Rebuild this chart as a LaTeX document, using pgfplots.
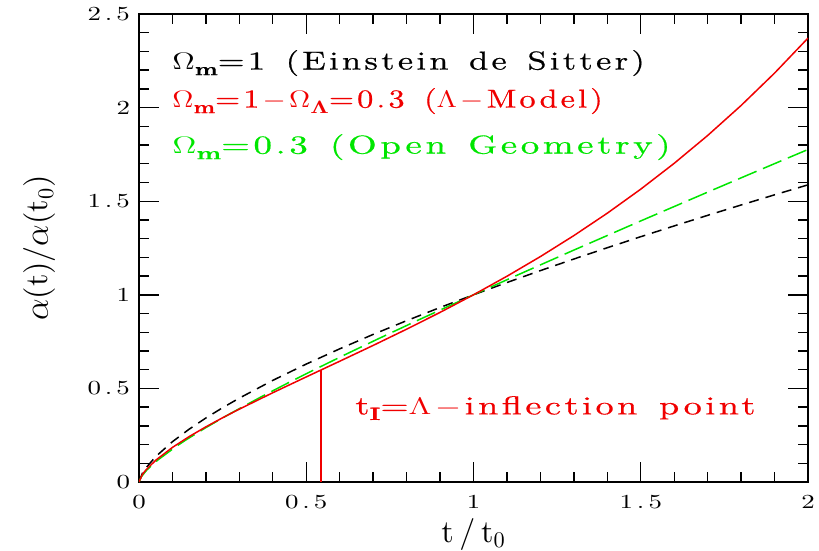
\documentclass[border=0pt]{standalone}
\usepackage[no-math]{fontspec}
\setmainfont{lmroman10-regular.otf}[BoldFont=lmroman10-bold.otf]
\newfontfamily\lblfam{lmroman10-regular.otf}[BoldFont=lmroman10-bold.otf,LetterSpace=9.5,WordSpace=1.4,FakeBold=0.5]
\usepackage{pgfplots}
\pgfplotsset{compat=1.18}
\definecolor{mygreen}{RGB}{0,230,0}
\definecolor{myred}{RGB}{240,0,0}
\newcommand{\lblfont}{\lblfam\fontsize{13}{15}\selectfont}
\newcommand{\sub}[1]{\raisebox{-0.5ex}{\fontsize{9}{9}\selectfont\bfseries #1}}
\newcommand{\subL}{\raisebox{-0.5ex}{$\scriptstyle\mathbf{\Lambda}$}}
\newcommand{\mminus}{\hspace{0.1em}$-$\hspace{0.1em}}
\begin{document}
\begin{tikzpicture}
\useasboundingbox (-69.5bp,-34.5bp) rectangle (340bp,241bp);
\begin{axis}[
  at={(0,0)}, anchor=south west,
  scale only axis, width=334.5bp, height=234bp,
  xmin=0, xmax=2, ymin=0, ymax=2.5,
  xtick={0,0.5,1,1.5,2}, ytick={0,0.5,1,1.5,2,2.5},
  minor tick num=4,
  major tick length=10bp, minor tick length=5bp,
  tick align=inside,
  tick style={black, line width=0.7bp},
  axis line style={line width=1bp},
  /pgf/number format/assume math mode=true,
  ticklabel style={font=\fontsize{10}{12}\selectfont\addfontfeatures{LetterSpace=15}},
  xticklabel={\scalebox{1.35}[1]{\pgfmathprintnumber{\tick}}},
  yticklabel={\scalebox{1.35}[1]{\pgfmathprintnumber{\tick}}},
  xticklabel style={yshift=-3bp},
  yticklabel style={xshift=-1bp},
  xlabel={t/t\textsubscript{0}},
  ylabel={$\alpha$(t)/$\alpha$(t\textsubscript{0})},
  label style={font=\fontsize{16}{18}\selectfont},
  xlabel style={at={(axis description cs:0.5,-0.112)}, anchor=center, font=\fontsize{16}{18}\selectfont\addfontfeatures{LetterSpace=18}},
  ylabel style={at={(axis description cs:-0.148,0.5)}, anchor=center},
  clip=true,
]
% Einstein de Sitter a = t^(2/3)
\addplot[black, line width=0.75bp, dash pattern=on 5bp off 3.5bp] coordinates {
(0,0) (0.01,0.04642) (0.02,0.07368) (0.05,0.13572) (0.1,0.21544) (0.15,0.28231)
(0.2,0.34200) (0.25,0.39685) (0.3,0.44814) (0.4,0.54288) (0.5,0.62996)
(0.6,0.71138) (0.7,0.78837) (0.8,0.86177) (0.9,0.93217) (1.0,1.0)
(1.1,1.06560) (1.2,1.12924) (1.3,1.19114) (1.4,1.25146) (1.5,1.31037)
(1.6,1.36798) (1.7,1.42440) (1.8,1.47973) (1.9,1.53405) (2.0,1.58740)
};
% Open geometry, Omega_m = 0.3
\addplot[mygreen, line width=0.75bp, dash pattern=on 10bp off 3.5bp] coordinates {
(0,0) (0.00668,0.02735) (0.02290,0.06315) (0.05548,0.11638) (0.11144,0.19038)
(0.14221,0.22679) (0.19927,0.28980) (0.27153,0.36418) (0.36169,0.45160)
(0.43325,0.51809) (0.51518,0.59190) (0.60859,0.67378) (0.71476,0.76455)
(0.83505,0.86512) (1.0,1.0) (1.12424,1.09978) (1.29667,1.23622)
(1.49033,1.38717) (1.70745,1.55416) (1.82559,1.64418) (1.95059,1.73887)
(2.0,1.77614)
};
% Lambda model, Omega_m = 0.3
\addplot[myred, line width=0.75bp] coordinates {
(0,0) (0.01,0.03973) (0.02,0.06306) (0.05,0.11625) (0.1,0.18474) (0.15,0.24256)
(0.2,0.29468) (0.25,0.34320) (0.3,0.38928) (0.4,0.47691) (0.5,0.56140)
(0.6,0.64508) (0.7,0.72957) (0.8,0.81617) (0.9,0.90599) (1.0,1.0)
(1.1,1.09911) (1.2,1.20421) (1.3,1.31620) (1.4,1.43594) (1.5,1.56435)
(1.6,1.70238) (1.7,1.85100) (1.8,2.01127) (1.9,2.18428) (2.0,2.37130)
};
% inflection point marker
\addplot[myred, line width=0.9bp] coordinates {(0.5439,0) (0.5439,0.598)};
\node[anchor=west, inner sep=0pt, text=black, font=\lblfont] at (axis cs:0.0987,2.238) {\scalebox{1.33}[1]{$\Omega$\sub{m}=1 (Einstein de Sitter)}};
\node[anchor=west, inner sep=0pt, text=myred, font=\lblfont] at (axis cs:0.0987,2.035) {\scalebox{1.25}[1]{$\Omega$\sub{m}=1\mminus$\Omega$\subL=0.3 ($\Lambda$\mminus Model)}};
\node[anchor=west, inner sep=0pt, text=mygreen, font=\lblfont] at (axis cs:0.0987,1.789) {\scalebox{1.43}[1]{$\Omega$\sub{m}=0.3 (Open Geometry)}};
\node[anchor=west, inner sep=0pt, text=myred, font=\lblfont] at (axis cs:0.6457,0.395) {\scalebox{1.40}[1]{t\sub{I}=$\Lambda$\mminus inflection point}};
\end{axis}
\end{tikzpicture}
\end{document}
